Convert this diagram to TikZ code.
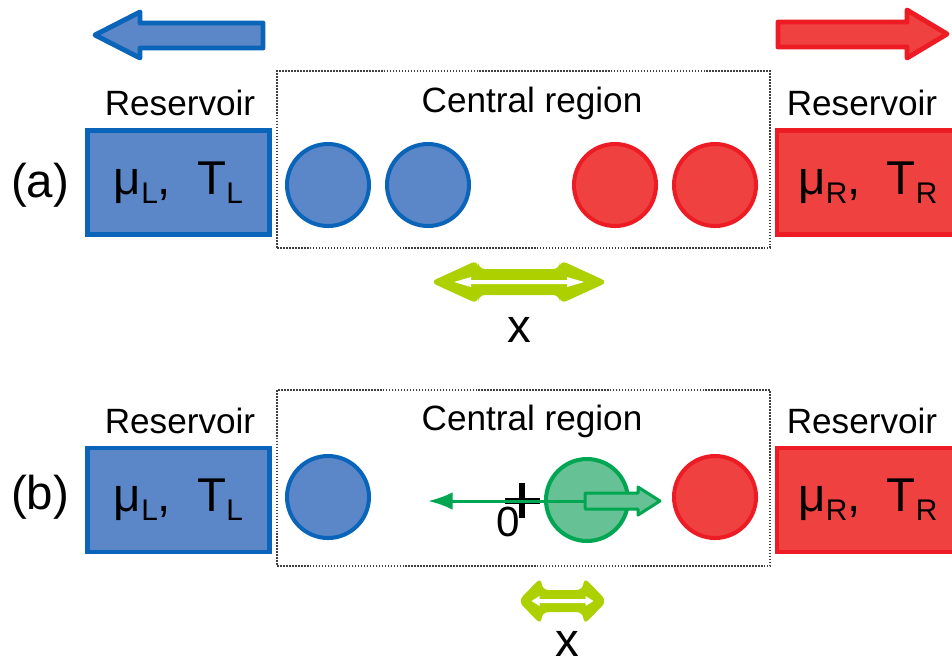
\documentclass[tikz,border=0pt]{standalone}
\usepackage{fontspec}
\setmainfont{Liberation Sans}
\usetikzlibrary{arrows.meta,positioning}
\definecolor{ResBlue}{RGB}{91,135,200}
\definecolor{ResBlueLine}{RGB}{10,100,185}
\definecolor{ResRed}{RGB}{240,65,65}
\definecolor{ResRedLine}{RGB}{237,28,36}
\definecolor{DotGreen}{RGB}{102,194,149}
\definecolor{DotGreenLine}{RGB}{0,166,81}
\definecolor{Lime}{RGB}{173,208,0}
\tikzset{
  reservoir/.style={draw=#1Line,fill=#1,line width=2.8pt,minimum width=3.64cm,
    minimum height=2.08cm,inner sep=0pt,font=\fontsize{27pt}{30pt}\selectfont},
  ball/.style={circle,draw=#1Line,fill=#1,line width=2.3pt,minimum size=1.64cm,
    inner sep=0pt},
  region/.style={draw=black!75,line width=0.9pt,dash pattern=on 0.9pt off 0.8pt,
    minimum width=9.86cm,inner sep=0pt},
  title/.style={font=\fontsize{20pt}{24pt}\selectfont},
  panel/.style={font=\fontsize{27pt}{30pt}\selectfont,inner sep=1pt},
  bigarrow/.style={draw=#1Line,fill=#1,line width=2.8pt,line join=round},
  axis/.style={DotGreenLine,line width=1.7pt},
  hollow/.style={draw=DotGreenLine,fill=DotGreen,line width=1.7pt,line join=round}
}
\newcommand{\lowsub}[1]{\raisebox{-0.35ex}{\fontsize{17pt}{18pt}\selectfont #1}}
\newcommand{\muT}[1]{μ\lowsub{#1}, \ T\lowsub{#1}}

\begin{document}
\begin{tikzpicture}[x=0.02cm,y=-0.02cm]
\useasboundingbox (0,0) rectangle (952,664);
\clip (0,0) rectangle (952,664);

% direction of the flows
\draw[bigarrow=ResBlue] (263,23) -- (140,23) -- (140,12) -- (95,35) -- (140,58)
  -- (140,48) -- (263,48) -- cycle;
\draw[bigarrow=ResRed] (778,22) -- (907,22) -- (907,10) -- (947,34) -- (907,58)
  -- (907,47) -- (778,47) -- cycle;

% (a)
\node[region,minimum height=3.54cm] (cra) at (523.5,159.5) {};
\node[title] at (532,103) {Central region};
\node[reservoir=ResBlue] (resLa) at (178.5,182.5) {\muT{L}};
\node[reservoir=ResRed] (resRa) at (868,182.5) {\muT{R}};
\node[title] at (180,103) {Reservoir};
\node[title] at (862,103) {Reservoir};
\node[panel] at (40,185) {(a)};

\node[ball=ResBlue] (ba1) at (328,185) {};
\node[ball=ResBlue] (ba2) at (428,185) {};
\node[ball=ResRed] (ba3) at (615,185) {};
\node[ball=ResRed] (ba4) at (715,185) {};

\begin{scope}[shift={(519,282)}]
  \fill[Lime,rounded corners=4pt] (-89,0) -- (-41,-22) -- (-41,-13) -- (41,-13)
    -- (41,-22) -- (89,0) -- (41,22) -- (41,13) -- (-41,13) -- (-41,22) -- cycle;
  \fill[white] (-65,0) -- (-48,-5) -- (-48,-2) -- (48,-2) -- (48,-5) -- (65,0)
    -- (48,5) -- (48,2) -- (-48,2) -- (-48,5) -- cycle;
\end{scope}
\node[panel] at (519,330) {x};

% (b)
\node[region,minimum height=3.52cm] (crb) at (523.5,478) {};
\node[title] at (532,421) {Central region};
\node[reservoir=ResBlue] (resLb) at (178.5,500) {\muT{L}};
\node[reservoir=ResRed] (resRb) at (868,500) {\muT{R}};
\node[title] at (180,421) {Reservoir};
\node[title] at (862,421) {Reservoir};
\node[panel] at (40,497) {(b)};

\node[ball=ResBlue] (bb1) at (328,497) {};
\node[ball=ResRed] (bb3) at (715,497) {};
\node[ball=DotGreen] (bb2) at (587,500) {};

\coordinate (orig) at (522,501);
\coordinate (left) at (428,501);
\node[font=\fontsize{24pt}{26pt}\selectfont] at (508,522) {0};
\draw[black,line width=3.6pt] (orig) ++(-17,0) -- ++(35,0)
  (orig) ++(0,-18) -- ++(0,35);
\draw[axis,-{Latex[length=14pt,width=10pt]}] (585,501) -- (left);
\draw[hollow] (585,493) -- (638,493) -- (638,487) -- (660,501) -- (638,515)
  -- (638,509) -- (585,509) -- cycle;

\begin{scope}[shift={(562.5,601)}]
  \fill[Lime,rounded corners=4pt] (-44.5,0) -- (-21,-24) -- (-21,-11) -- (21,-11)
    -- (21,-24) -- (44.5,0) -- (21,24) -- (21,11) -- (-21,11) -- (-21,24) -- cycle;
  \fill[white] (-31,0) -- (-23,-5) -- (-23,-2) -- (23,-2) -- (23,-5) -- (31,0)
    -- (23,5) -- (23,2) -- (-23,2) -- (-23,5) -- cycle;
\end{scope}
\node[panel] at (567,644) {x};

\end{tikzpicture}
\end{document}
